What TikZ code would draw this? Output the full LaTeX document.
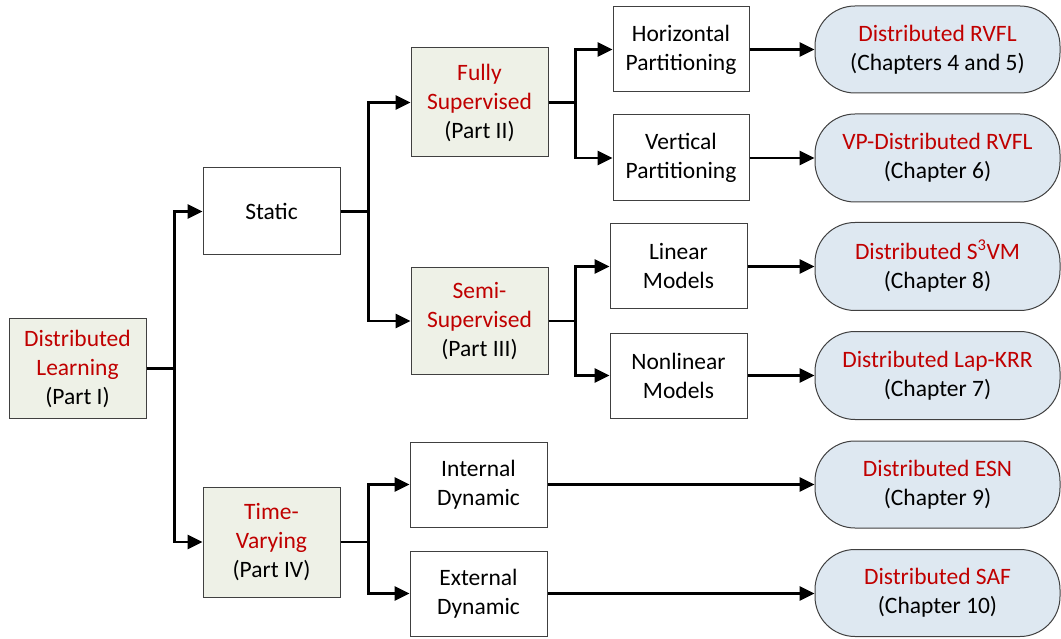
\documentclass[tikz,border=0pt]{standalone}
\usepackage{fontspec}
\setmainfont{Carlito}
\usetikzlibrary{arrows.meta}
\definecolor{redtxt}{HTML}{C00000}
\definecolor{greenfill}{HTML}{EEF1E7}
\definecolor{bluefill}{HTML}{DEE8F1}
\definecolor{bordergray}{HTML}{404040}
\tikzset{
  basebox/.style={draw=bordergray, line width=1pt, align=center, inner sep=0pt,
    font=\fontsize{23.5}{29}\selectfont},
  partbox/.style={basebox, fill=greenfill, minimum width=137pt},
  plainbox/.style={basebox, fill=white, minimum width=137pt, minimum height=85pt},
  resultbox/.style={basebox, fill=bluefill, rounded corners=40pt, minimum width=245pt, minimum height=87pt},
  conn/.style={line width=2.6pt, -{Triangle[length=15pt,width=14pt]}}
}
\newcommand{\rt}[1]{\textcolor{redtxt}{#1}}
\begin{document}
\begin{tikzpicture}[x=1pt,y=-1pt]
\useasboundingbox (0,0) rectangle (1061,639);
% part boxes
\node[partbox, minimum height=99pt] (dl) at (77.5,368.5) {\rt{Distributed}\\\rt{Learning}\\(Part I)};
\node[plainbox, minimum height=87pt] (static) at (271.5,211.5) {Static};
\node[partbox, minimum height=109pt] (fully) at (479.5,102.5) {\rt{Fully}\\\rt{Supervised}\\(Part II)};
\node[partbox, minimum height=106pt] (semi) at (479.5,321) {\rt{Semi-}\\\rt{Supervised}\\(Part III)};
\node[partbox, minimum height=110pt] (time) at (271.5,542) {\rt{Time-}\\\rt{Varying}\\(Part IV)};
% intermediate boxes
\node[plainbox, minimum width=136pt] (horiz) at (681,49.5) {Horizontal\\Partitioning};
\node[plainbox, minimum width=136pt, minimum height=86pt] (vert) at (681,158) {Vertical\\Partitioning};
\node[plainbox] (linear) at (678.5,266.5) {Linear\\Models};
\node[plainbox] (nonlin) at (678.5,375.5) {Nonlinear\\Models};
\node[plainbox] (internal) at (478.5,484.5) {Internal\\Dynamic};
\node[plainbox] (external) at (478.5,593.5) {External\\Dynamic};
% results
\node[resultbox] (rvfl) at (937.5,49.5) {\rt{Distributed RVFL}\\(Chapters 4 and 5)};
\node[resultbox, minimum height=88pt] (vp) at (937.5,158) {\rt{VP-Distributed RVFL}\\(Chapter 6)};
\node[resultbox, minimum height=88pt] (s3vm) at (937.5,266.5) {\rt{Distributed S\textsuperscript{3}VM}\\(Chapter 8)};
\node[resultbox, minimum height=88pt] (lap) at (937.5,375.5) {\rt{Distributed Lap-KRR}\\(Chapter 7)};
\node[resultbox] (esn) at (937.5,484.5) {\rt{Distributed ESN}\\(Chapter 9)};
\node[resultbox] (saf) at (937.5,593) {\rt{Distributed SAF}\\(Chapter 10)};
% connectors
\draw[conn] (dl.east) -- ++(28,0) |- (static.west);
\draw[conn] (dl.east) -- ++(28,0) |- (time.west);
\draw[conn] (static.east) -- ++(28,0) |- (fully.west);
\draw[conn] (static.east) -- ++(28,0) |- (semi.west);
\draw[conn] (fully.east) -- ++(27,0) |- (horiz.west);
\draw[conn] (fully.east) -- ++(27,0) |- (vert.west);
\draw[conn] (semi.east) -- ++(27,0) |- (linear.west);
\draw[conn] (semi.east) -- ++(27,0) |- (nonlin.west);
\draw[conn] (time.east) -- ++(28,0) |- (internal.west);
\draw[conn] (time.east) -- ++(28,0) |- (external.west);
\draw[conn] (horiz.east) -- (horiz.east -| rvfl.west);
\draw[conn] (vert.east) -- (vert.east -| vp.west);
\draw[conn] (linear.east) -- (linear.east -| s3vm.west);
\draw[conn] (nonlin.east) -- (nonlin.east -| lap.west);
\draw[conn] (internal.east) -- (internal.east -| esn.west);
\draw[conn] (external.east) -- (external.east -| saf.west);
\end{tikzpicture}
\end{document}
